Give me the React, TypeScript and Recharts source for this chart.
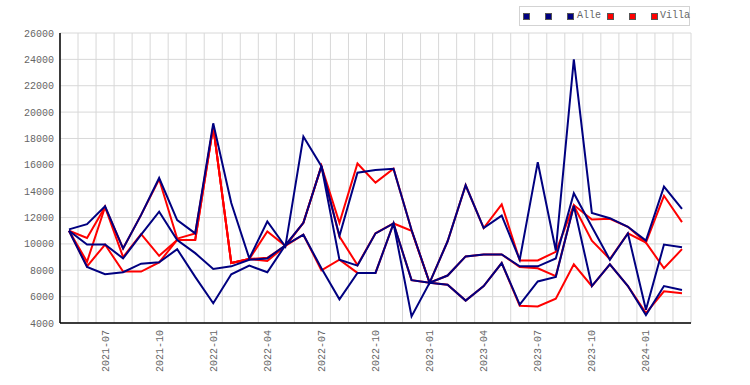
import { LineChart, Line, XAxis, YAxis, CartesianGrid } from 'recharts'

document.body.style.margin = '0'

const months = [
  '2021-05', '2021-06', '2021-07', '2021-08', '2021-09', '2021-10', '2021-11', '2021-12',
  '2022-01', '2022-02', '2022-03', '2022-04', '2022-05', '2022-06', '2022-07', '2022-08',
  '2022-09', '2022-10', '2022-11', '2022-12', '2023-01', '2023-02', '2023-03', '2023-04',
  '2023-05', '2023-06', '2023-07', '2023-08', '2023-09', '2023-10', '2023-11', '2023-12',
  '2024-01', '2024-02', '2024-03',
]

// Alle
const alleMax = [11100, 11500, 12850, 9650, 12200, 15000, 11800, 10800, 19150, 13100, 8900, 11700, 9800, 18150, 15900, 10600, 15400, 15600, 15700, 11050, 7050, 10200, 14450, 11200, 12150, 8800, 16200, 9500, 24000, 12350, 11950, 11300, 10250, 14350, 12650]
const alleMean = [11000, 9950, 9950, 8900, 10700, 12450, 10300, 9300, 8100, 8300, 8800, 8900, 9900, 11600, 15900, 8800, 8350, 10800, 11550, 7250, 7050, 7600, 9050, 9200, 9200, 8300, 8300, 8900, 13850, 11300, 8800, 10800, 5000, 9950, 9750]
const alleMin = [11000, 8250, 7700, 7850, 8500, 8600, 9600, 7500, 5500, 7700, 8350, 7850, 9900, 10700, 8150, 5800, 7800, 7800, 11550, 4500, 7050, 6900, 5700, 6800, 8550, 5400, 7150, 7500, 12900, 6800, 8450, 6800, 4600, 6800, 6500]

// Villa
const villaMax = [11000, 10450, 12800, 9650, 12200, 14900, 10400, 10800, 18900, 8550, 8850, 10950, 9850, 11600, 15900, 11600, 16100, 14650, 15700, 11050, 7050, 10200, 14450, 11200, 13000, 8750, 8750, 9400, 12950, 11850, 11900, 11300, 10100, 13650, 11650]
const villaMean = [11000, 8650, 12800, 9000, 10750, 9100, 10300, 10300, 18900, 8550, 8850, 8950, 9850, 11600, 15900, 10550, 8400, 10800, 11550, 11000, 7050, 7600, 9050, 9200, 9200, 8250, 8150, 7550, 12900, 10250, 8850, 10800, 10100, 8150, 9600]
const villaMin = [11000, 8300, 9950, 7900, 7900, 8600, 10300, 10300, 18900, 8550, 8850, 8700, 9850, 10700, 8000, 8800, 7800, 7800, 11550, 7250, 7050, 6900, 5700, 6800, 8550, 5300, 5250, 5850, 8450, 6800, 8450, 6800, 4750, 6400, 6250]

const yTicks = [4000, 6000, 8000, 10000, 12000, 14000, 16000, 18000, 20000, 22000, 24000, 26000]

const NAVY = '#000080'
const RED = '#ff0000'
const TEXT = '#666666'
const GRID = '#d8d8d8'
const FONT = '"Liberation Mono", "DejaVu Sans Mono", monospace'

const data = months.map((m, i) => ({
  m,
  alleMax: alleMax[i],
  alleMean: alleMean[i],
  alleMin: alleMin[i],
  villaMax: villaMax[i],
  villaMean: villaMean[i],
  villaMin: villaMin[i],
}))

function MonthTick({ x, y, payload, index }: any) {
  if (index % 3 !== 2) return <g />
  return (
    <text
      x={x}
      y={y}
      transform={`rotate(-90, ${x}, ${y})`}
      textAnchor="end"
      dy="0.35em"
      fontSize={10}
      fontFamily={FONT}
      fill={TEXT}
    >
      {payload.value}
    </text>
  )
}

function LegendBox() {
  const sq = (left: number, color: string) => (
    <span
      style={{
        position: 'absolute',
        left,
        top: 6,
        width: 7,
        height: 7,
        boxSizing: 'border-box',
        border: '1px solid #555',
        background: color,
      }}
    />
  )
  const label = (left: number, text: string) => (
    <span style={{ position: 'absolute', left, top: 0, lineHeight: '18px' }}>{text}</span>
  )
  return (
    <div
      style={{
        position: 'absolute',
        left: 519,
        top: 6,
        width: 169,
        height: 18,
        border: '1px solid #d3d3d3',
        background: '#fff',
        fontFamily: FONT,
        fontSize: 10,
        color: TEXT,
      }}
    >
      {sq(3, NAVY)}
      {sq(25, NAVY)}
      {sq(47, NAVY)}
      {label(57, 'Alle')}
      {sq(87, RED)}
      {sq(109, RED)}
      {sq(131, RED)}
      {label(140, 'Villa')}
    </div>
  )
}

export default function App() {
  const lineProps = {
    type: 'linear' as const,
    dot: false,
    strokeWidth: 2,
    isAnimationActive: false,
  }
  return (
    <div style={{ position: 'relative', width: 750, height: 385, background: '#fff' }}>
      <LineChart width={750} height={385} data={data} margin={{ top: 33, right: 59, bottom: 0, left: 0 }}>
        <CartesianGrid
          stroke={GRID}
          verticalCoordinatesGenerator={({ offset }: any) =>
            Array.from({ length: 36 }, (_, k) => offset.left + (k * offset.width) / 35)
          }
        />
        <XAxis
          dataKey="m"
          interval={0}
          height={62}
          padding={{ left: 9, right: 9 }}
          tick={<MonthTick />}
          tickLine={false}
          tickSize={0}
          tickMargin={7}
          axisLine={{ stroke: '#000', strokeWidth: 1.5 }}
        />
        <YAxis
          width={60}
          domain={[4000, 26000]}
          ticks={yTicks}
          interval={0}
          tickLine={false}
          tickSize={0}
          tickMargin={6}
          axisLine={{ stroke: '#000', strokeWidth: 1.5 }}
          tick={{ fontSize: 10, fill: TEXT, fontFamily: FONT }}
        />
        <Line dataKey="villaMax" stroke={RED} {...lineProps} />
        <Line dataKey="villaMean" stroke={RED} {...lineProps} />
        <Line dataKey="villaMin" stroke={RED} {...lineProps} />
        <Line dataKey="alleMax" stroke={NAVY} {...lineProps} />
        <Line dataKey="alleMean" stroke={NAVY} {...lineProps} />
        <Line dataKey="alleMin" stroke={NAVY} {...lineProps} />
      </LineChart>
      <LegendBox />
    </div>
  )
}
